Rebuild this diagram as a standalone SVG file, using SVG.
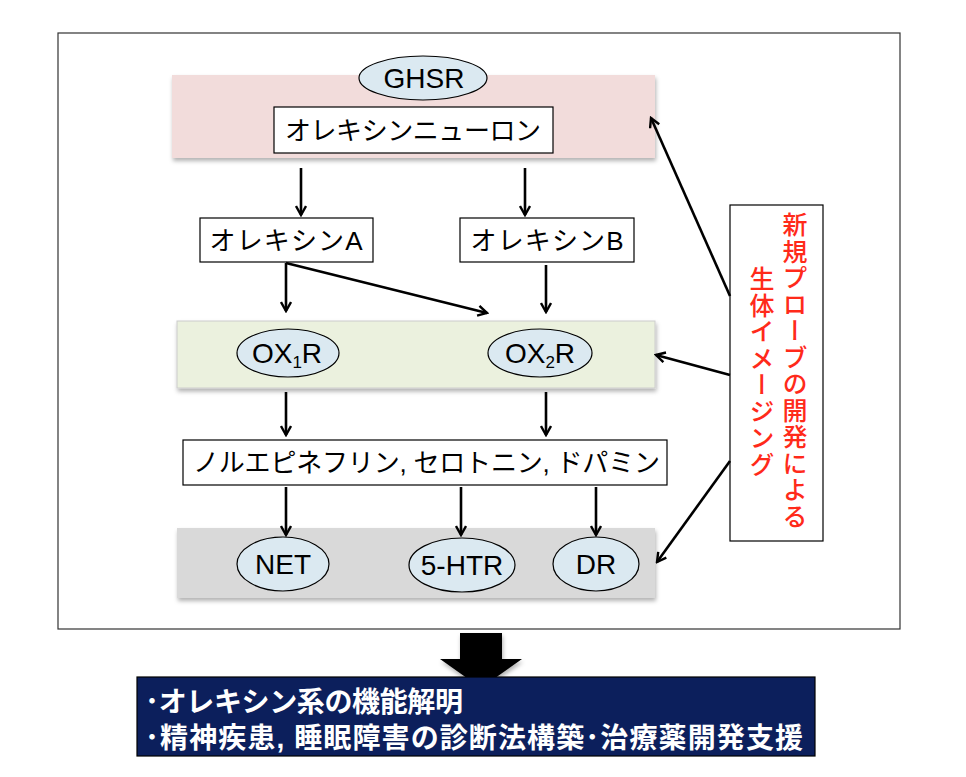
<svg xmlns="http://www.w3.org/2000/svg" width="966" height="777" viewBox="0 0 966 777">
<defs>
<style>
.t{font-family:"Liberation Sans","Noto Sans CJK JP",sans-serif;fill:#000;}
.box{fill:#fff;stroke:#000;stroke-width:1.2;}
.ell{fill:#dbe9f1;stroke:#000;stroke-width:1.2;}
.ln{stroke:#000;stroke-width:2.6;fill:none;marker-end:url(#ah);}
.red{font-family:"Noto Sans CJK JP",sans-serif;fill:#ff2a1a;font-size:25px;font-weight:500;writing-mode:vertical-rl;letter-spacing:1.5px;}
.w{font-family:"Liberation Sans","Noto Sans CJK JP",sans-serif;fill:#fff;font-size:28px;font-weight:bold;}
</style>
<marker id="ah" markerWidth="12" markerHeight="12" refX="10" refY="6" orient="auto" markerUnits="userSpaceOnUse">
<path d="M1,1 L10,6 L1,11" fill="none" stroke="#000" stroke-width="2.4"/>
</marker>
<filter id="sh" x="-5%" y="-10%" width="110%" height="130%">
<feDropShadow dx="1" dy="3" stdDeviation="2" flood-color="#000" flood-opacity="0.3"/>
</filter>
</defs>
<rect width="966" height="777" fill="#fff"/>
<rect id="frame" x="58" y="33" width="842" height="596" fill="#fff" stroke="#333" stroke-width="1.2"/>

<g id="band1"><rect x="172" y="75" width="483" height="83" fill="#f2dcdb" filter="url(#sh)"/></g>
<g id="band2"><rect x="177" y="321" width="478" height="67" fill="#ebf1de" stroke="#ccc" stroke-width="1" filter="url(#sh)"/></g>
<g id="band3"><rect x="177" y="528" width="478" height="70" fill="#d9d9d9" filter="url(#sh)"/></g>

<g id="ghsr"><ellipse class="ell" cx="423" cy="78" rx="64" ry="22"/><text class="t" x="424" y="88" font-size="28" text-anchor="middle">GHSR</text></g>
<g id="neuron"><rect class="box" x="274" y="107" width="279" height="46"/><text class="t" x="413" y="140" font-size="26" text-anchor="middle" textLength="256">オレキシンニューロン</text></g>
<g id="orexinA"><rect class="box" x="200" y="218" width="173" height="44"/><text class="t" x="286" y="250" font-size="26" text-anchor="middle" textLength="153">オレキシンA</text></g>
<g id="orexinB"><rect class="box" x="460" y="218" width="174" height="44"/><text class="t" x="547" y="250" font-size="26" text-anchor="middle" textLength="153">オレキシンB</text></g>
<g id="ox1r"><ellipse class="ell" cx="288" cy="353" rx="51" ry="24"/><text class="t" x="287" y="363" font-size="28" text-anchor="middle">OX<tspan font-size="17" dy="5">1</tspan><tspan dy="-5">R</tspan></text></g>
<g id="ox2r"><ellipse class="ell" cx="540" cy="353" rx="52" ry="24"/><text class="t" x="540" y="363" font-size="28" text-anchor="middle">OX<tspan font-size="17" dy="5">2</tspan><tspan dy="-5">R</tspan></text></g>
<g id="nt"><rect class="box" x="183" y="440" width="484" height="45"/><text class="t" x="193" y="472" font-size="26" textLength="467">ノルエピネフリン, セロトニン, ドパミン</text></g>
<g id="net"><ellipse class="ell" cx="283" cy="564" rx="46" ry="27"/><text class="t" x="283" y="574" font-size="28" text-anchor="middle">NET</text></g>
<g id="htr"><ellipse class="ell" cx="462" cy="565" rx="53" ry="27"/><text class="t" x="462" y="575" font-size="28" text-anchor="middle">5-HTR</text></g>
<g id="dr"><ellipse class="ell" cx="596" cy="564" rx="43" ry="27"/><text class="t" x="596" y="574" font-size="28" text-anchor="middle">DR</text></g>

<g id="probe">
<rect class="box" x="730" y="205" width="93" height="336"/>
<text class="red" x="795" y="212">新規プローブの開発による</text>
<text class="red" x="762" y="266">生体イメージング</text>
</g>

<g id="connectors">
<line class="ln" x1="301" y1="168" x2="301" y2="215"/>
<line class="ln" x1="525" y1="168" x2="525" y2="215"/>
<line class="ln" x1="286" y1="263" x2="286" y2="311"/>
<line class="ln" x1="286" y1="263" x2="487" y2="313"/>
<line class="ln" x1="546" y1="265" x2="546" y2="312"/>
<line class="ln" x1="286" y1="392" x2="286" y2="435"/>
<line class="ln" x1="546" y1="392" x2="546" y2="435"/>
<line class="ln" x1="286" y1="487" x2="286" y2="535"/>
<line class="ln" x1="461" y1="487" x2="461" y2="535"/>
<line class="ln" x1="596" y1="487" x2="596" y2="535"/>
<line class="ln" x1="730" y1="296" x2="651" y2="118"/>
<line class="ln" x1="730" y1="375" x2="656" y2="355"/>
<line class="ln" x1="730" y1="461" x2="657" y2="562"/>
</g>

<g id="bigarrow"><path d="M460,633 L502,633 L502,659 L522,659 L481,688 L440,659 L460,659 Z" fill="#000" filter="url(#sh)"/></g>

<g id="result">
<rect x="137" y="677" width="678" height="79" fill="#0c1f5c" stroke="#000" stroke-width="1.2"/>
<text class="w" x="145" y="712" textLength="318">･オレキシン系の機能解明</text>
<text class="w" x="145" y="748" textLength="658">･精神疾患, 睡眠障害の診断法構築･治療薬開発支援</text>
</g>
</svg>
